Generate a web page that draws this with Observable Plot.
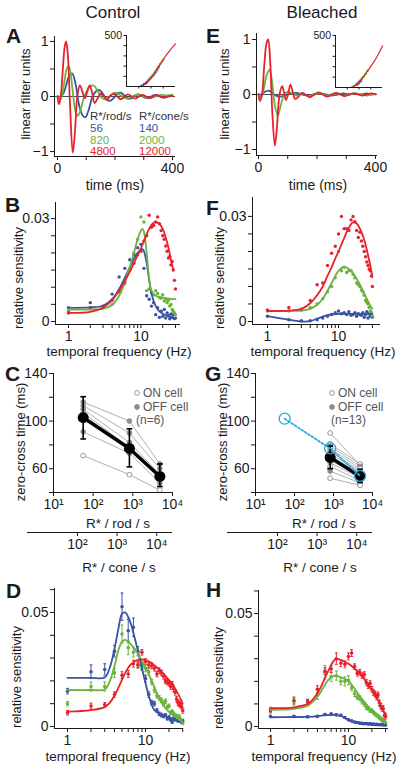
<!DOCTYPE html>
<html><head><meta charset="utf-8">
<script src="https://cdn.jsdelivr.net/npm/d3@7"></script>
<script src="https://cdn.jsdelivr.net/npm/@observablehq/plot@0.6"></script>
<style>
html,body{margin:0;padding:0;background:#fff;}
#fig{position:relative;width:400px;height:769px;overflow:hidden;background:#fff;font-family:"Liberation Sans",Arial,Helvetica,sans-serif;}
#fig svg{position:absolute;}
</style></head><body><div id="fig"></div>
<script>
// ---------------- DATA ----------------
// Panel A (Control) linear filters: time (ms) and amplitude
const tRedA = [0,5,10,18,25,30,36,44,53,60,70,78,87,95,103,112,120,129,138,150,162,172,185,196,208,220,233,245,258,270,283,295,308,320,333,345,358,370,383,395,400];
const vRedA = [0,-0.14,-0.05,0.45,0.9,1.0,0.75,-0.2,-1.02,-0.7,0.05,0.2,0.08,-0.03,0.08,0.2,0.08,-0.12,-0.05,0.05,0,-0.06,0.02,0.05,0,-0.05,0,0.04,0,-0.04,0,0.03,0,-0.03,0,0.03,0,-0.02,0,0.02,0.01];
const tGrnA = [0,8,15,25,32,39,46,55,63,71,80,90,100,113,126,140,155,165,180,195,205,220,240,260,280,300,320,340,360,380,400];
const vGrnA = [0,-0.06,0.02,0.3,0.5,0.55,0.4,0,-0.28,-0.35,-0.25,-0.05,0.08,0.18,0.2,0.1,-0.03,-0.05,0,0.06,0.07,0.02,-0.04,0,0.04,0,-0.03,0,0.03,0.02,0.03];
const tBluA = [0,10,20,30,40,51,62,75,88,97,108,122,135,145,158,170,182,195,208,220,232,245,258,270,283,296,310,325,340,355,370,385,400];
const vBluA = [0,0,0.05,0.2,0.37,0.42,0.25,-0.15,-0.35,-0.38,-0.25,0,0.1,0.12,0.05,-0.05,-0.08,-0.03,0.05,0.07,0.02,-0.04,-0.03,0.02,0.04,0,-0.03,0,0.03,0,-0.02,0,0.01];
// Panel E (Bleached) linear filters
const tRedE = [0,5,12,20,27,33,40,47,56,63,72,81,88,94,101,109,117,125,135,148,160,175,190,205,220,235,250,265,280,295,310,325,340,355,370,385,400];
const vRedE = [0,-0.12,0,0.55,0.92,1.0,0.6,-0.3,-0.93,-0.6,0,0.15,0.02,-0.1,0,0.18,0.05,-0.08,-0.05,0.03,0,-0.05,0,0.04,0,-0.04,0,0.03,0,-0.03,0,0.02,0,-0.02,0,0.02,0];
const tGrnE = [0,8,16,28,38,46,56,66,76,88,100,115,130,150,170,190,210,230,250,270,290,310,330,350,370,385,400];
const vGrnE = [0,-0.05,0.05,0.35,0.45,0.25,-0.2,-0.38,-0.2,0,0.05,0.02,-0.02,0.02,-0.03,0,0.02,-0.02,0,0.02,-0.02,0,0.02,0,-0.02,0,0.01];
const tBluE = [0,10,20,34,45,60,75,90,110,130,150,170,190,210,230,250,270,290,310,330,350,370,385,400];
const vBluE = [0,0,0.04,0.07,0.04,-0.02,-0.04,-0.02,0.02,0.03,0,-0.02,0,0.02,0,-0.02,0,0.02,0,0.02,0,0.02,0,0.01];
// Insets (static nonlinearity): generator signal (a.u.) vs rate (0-500)
const insAredX = [0,2.8,4.2,5.6,6.9,8.3,10];
const insAredY = [0,0,42,124,222,320,418];
const insAbluX = [3.0,3.3,3.6,3.9,4.1,4.4,4.7,5.0,5.3,5.6,5.9,6.2,6.5];
const insAbluY = [5,10,25,30,40,55,72,85,100,118,140,160,185];
const insAgrnX = [4.5,4.8,5.1,5.4,5.7,6.0,6.3,6.6,6.9,7.2,7.5];
const insAgrnY = [60,78,95,112,130,155,175,195,220,240,260];
const insEredX = [0,3.2,4.6,6.0,7.4,8.8,10];
const insEredY = [0,0,35,106,196,293,400];
const insEbluX = [4.5,4.7,4.9,5.0,5.2,5.4];
const insEbluY = [25,35,40,50,55,65];
const insEgrnX = [3.6,4.0,4.4,4.8,5.2,5.6,6.0,6.4,6.8];
const insEgrnY = [5,15,28,45,65,85,105,130,160];

// Panels B/F: sensitivity vs temporal frequency
const freqPts = [1,2,3,4,5,6,7,8,9,10,11,12,13,14,15,16,17,18,19,20,21,22,23,24,25,26,27,28,29,30];
const fitFreqB = [1,2,3,4,5,6,7,8,9,10,10.5,11,12,13,14,16,18,22,26,30];
const fitBluB = [0.0040,0.0041,0.0046,0.0065,0.0095,0.0128,0.0158,0.0183,0.0200,0.0210,0.0211,0.0205,0.0170,0.0120,0.0080,0.0045,0.0030,0.0018,0.0013,0.0010];
const fitGrnB = [0.0035,0.0035,0.0037,0.0048,0.0075,0.0115,0.0158,0.0200,0.0240,0.0265,0.0270,0.0262,0.0200,0.0125,0.0090,0.0075,0.0072,0.0068,0.0066,0.0065];
const fitFreqBred = [1,2,3,4,5,6,7,8,9,10,11,12,13,14,15,16,18,20,22,24,26,28];
const fitRedB = [0.0025,0.0028,0.0040,0.0062,0.0090,0.0118,0.0145,0.0170,0.0193,0.0213,0.0235,0.0255,0.0270,0.0282,0.0288,0.0290,0.0285,0.0270,0.0245,0.0215,0.0180,0.0150];
const ptBluB = [0.0040,0.0055,0.0042,0.0080,0.0130,0.0155,0.0180,0.0195,0.0215,0.0225,0.0155,0.0075,0.0065,0.0045,0.0055,0.0020,0.0040,0.0012,0.0030,0.0015,0.0035,0.0010,0.0025,0.0018,0.0008,0.0022,0.0012,0.0020,0.0009,0.0010];
const ptGrnB = [0.0030,0.0040,0.0042,0.0050,0.0085,0.0110,0.0150,0.0200,0.0240,0.0305,0.0290,0.0090,0.0095,0.0085,0.0078,0.0090,0.0082,0.0070,0.0068,0.0078,0.0060,0.0065,0.0055,0.0062,0.0045,0.0050,0.0035,0.0030,0.0025,0.0020];
const ptRedB = [0.0025,0.0040,0.0045,0.0062,0.0090,0.0115,0.0150,0.0170,0.0195,0.0205,0.0235,0.0250,0.0310,0.0275,0.0280,0.0290,0.0305,0.0285,0.0265,0.0250,0.0240,0.0220,0.0205,0.0185,0.0190,0.0165,0.0175,0.0150,0.0120,0.0095];
const fitFreqF = [1,2,3,4,5,6,7,8,9,10,11,12,13,14,15,16,18,20,22,24,26,28,30];
const fitRedF = [0.0030,0.0031,0.0036,0.0052,0.0075,0.0100,0.0130,0.0155,0.0180,0.0200,0.0220,0.0238,0.0255,0.0268,0.0278,0.0283,0.0280,0.0265,0.0245,0.0220,0.0190,0.0160,0.0127];
const fitGrnF = [0.0030,0.0030,0.0031,0.0036,0.0048,0.0065,0.0088,0.0110,0.0130,0.0145,0.0153,0.0156,0.0154,0.0150,0.0145,0.0138,0.0122,0.0105,0.0088,0.0072,0.0058,0.0046,0.0036];
const fitBluF = [0.0015,0.0005,0.0000,0.0001,0.0008,0.0014,0.0018,0.0020,0.0021,0.0022,0.0022,0.0022,0.0022,0.0022,0.0022,0.0022,0.0022,0.0022,0.0022,0.0022,0.0022,0.0022,0.0022];
const ptRedF = [0.0033,0.0040,0.0035,0.0060,0.0105,0.0110,0.0160,0.0195,0.0215,0.0250,0.0300,0.0265,0.0265,0.0260,0.0290,0.0300,0.0285,0.0260,0.0240,0.0255,0.0230,0.0215,0.0200,0.0185,0.0170,0.0160,0.0150,0.0145,0.0130,0.0100];
const ptGrnF = [0.0030,0.0030,0.0032,0.0040,0.0050,0.0065,0.0085,0.0100,0.0125,0.0200,0.0145,0.0155,0.0140,0.0145,0.0145,0.0135,0.0125,0.0110,0.0105,0.0100,0.0090,0.0085,0.0075,0.0060,0.0055,0.0050,0.0040,0.0030,0.0025,0.0015];
const ptBluF = [0.0015,0.0005,0.0002,0.0002,0.0005,0.0010,0.0015,0.0020,0.0025,0.0030,0.0022,0.0025,0.0020,0.0028,0.0018,0.0020,0.0025,0.0015,0.0022,0.0020,0.0018,0.0025,0.0012,0.0020,0.0028,0.0010,0.0022,0.0015,0.0025,0.0012];

// Panels D/H: population means with s.e.m.
const fitFreqD = [1,2,3,3.5,4,4.5,5,5.5,6,6.5,7,8,9,10,11,12,13,15,18,22,26,30];
const fitBluD = [0.0213,0.0213,0.0215,0.0260,0.0340,0.0430,0.0495,0.0500,0.0480,0.0450,0.0410,0.0330,0.0255,0.0190,0.0135,0.0095,0.0072,0.0058,0.0045,0.0035,0.0027,0.0022];
const fitGrnD = [0.0160,0.0160,0.0162,0.0200,0.0265,0.0335,0.0372,0.0380,0.0372,0.0360,0.0348,0.0318,0.0288,0.0260,0.0230,0.0200,0.0172,0.0123,0.0080,0.0052,0.0035,0.0018];
const fitRedD = [0.0065,0.0072,0.0085,0.0105,0.0135,0.0170,0.0205,0.0235,0.0258,0.0272,0.0282,0.0292,0.0294,0.0292,0.0285,0.0278,0.0268,0.0250,0.0222,0.0185,0.0145,0.0100];
const ptBluD = [0.0155,0.0240,0.0250,0.0330,0.0525,0.0420,0.0435,0.0330,0.0265,0.0210,0.0140,0.0105,0.0100,0.0070,0.0055,0.0050,0.0045,0.0050,0.0035,0.0040,0.0030,0.0020,0.0035,0.0030,0.0035,0.0025,0.0030,0.0025,0.0020,0.0025];
const ptGrnD = [0.0100,0.0175,0.0175,0.0235,0.0405,0.0345,0.0325,0.0270,0.0260,0.0255,0.0240,0.0195,0.0160,0.0135,0.0125,0.0115,0.0100,0.0110,0.0085,0.0090,0.0060,0.0065,0.0055,0.0050,0.0045,0.0040,0.0045,0.0030,0.0025,0.0015];
const ptRedD = [0.0060,0.0090,0.0095,0.0140,0.0225,0.0230,0.0275,0.0270,0.0325,0.0285,0.0270,0.0265,0.0255,0.0230,0.0245,0.0235,0.0220,0.0200,0.0195,0.0190,0.0175,0.0185,0.0165,0.0150,0.0120,0.0105,0.0100,0.0095,0.0090,0.0070];
const errBluD = [0.0012,0.003,0.0025,0.0025,0.006,0.005,0.004,0.002,0.0015,0.0015,0.0012,0.001,0.001,0.0008,0.0008,0.0008,0.0007,0.0007,0.0007,0.0007,0.0006,0.0006,0.0006,0.0006,0.0006,0.0006,0.0006,0.0006,0.0006,0.0006];
const errGrnD = [0.001,0.002,0.002,0.002,0.004,0.003,0.002,0.0015,0.0015,0.0015,0.0015,0.0012,0.0012,0.001,0.001,0.001,0.001,0.001,0.0008,0.0008,0.0008,0.0008,0.0008,0.0007,0.0007,0.0007,0.0007,0.0007,0.0007,0.0007];
const errRedD = [0.001,0.0012,0.001,0.0012,0.0015,0.0015,0.0015,0.0012,0.0012,0.0012,0.0012,0.0012,0.0012,0.0012,0.0012,0.0012,0.0012,0.0012,0.0012,0.0012,0.0012,0.0012,0.0012,0.0012,0.0012,0.0012,0.0012,0.0012,0.0012,0.0012];
const fitBluH = [0.0041,0.0042,0.0043,0.0044,0.0046,0.0048,0.0050,0.0051,0.0052,0.0052,0.0051,0.0047,0.0038,0.0029,0.0022,0.0018,0.0015,0.0012,0.0010,0.0008,0.0007,0.0007];
const fitGrnH = [0.0074,0.0078,0.0091,0.0110,0.0132,0.0158,0.0185,0.0205,0.0218,0.0224,0.0224,0.0218,0.0210,0.0202,0.0185,0.0168,0.0150,0.0120,0.0088,0.0055,0.0030,0.0015];
const fitRedH = [0.0081,0.0085,0.0100,0.0120,0.0147,0.0180,0.0215,0.0245,0.0272,0.0292,0.0299,0.0295,0.0286,0.0278,0.0268,0.0256,0.0245,0.0222,0.0185,0.0140,0.0095,0.0050];
const ptBluH = [0.0045,0.0045,0.0043,0.0045,0.0053,0.0055,0.0052,0.0050,0.0040,0.0030,0.0025,0.0020,0.0018,0.0015,0.0014,0.0012,0.0013,0.0011,0.0012,0.0010,0.0011,0.0009,0.0010,0.0008,0.0009,0.0008,0.0009,0.0007,0.0008,0.0007];
const ptGrnH = [0.0075,0.0110,0.0110,0.0140,0.0240,0.0220,0.0225,0.0200,0.0200,0.0205,0.0170,0.0145,0.0130,0.0125,0.0110,0.0100,0.0085,0.0080,0.0070,0.0070,0.0062,0.0055,0.0050,0.0045,0.0040,0.0035,0.0030,0.0025,0.0020,0.0015];
const ptRedH = [0.0070,0.0115,0.0110,0.0165,0.0245,0.0255,0.0300,0.0280,0.0275,0.0310,0.0325,0.0265,0.0235,0.0240,0.0225,0.0230,0.0195,0.0180,0.0190,0.0165,0.0150,0.0145,0.0130,0.0140,0.0105,0.0090,0.0080,0.0080,0.0050,0.0045];
const errBluH = [0.0004,0.0004,0.0004,0.0004,0.0005,0.0005,0.0005,0.0004,0.0004,0.0004,0.0003,0.0003,0.0003,0.0003,0.0003,0.0003,0.0003,0.0003,0.0003,0.0003,0.0003,0.0003,0.0003,0.0003,0.0003,0.0003,0.0003,0.0003,0.0003,0.0003];
const errGrnH = [0.001,0.0015,0.001,0.002,0.003,0.002,0.002,0.0015,0.002,0.002,0.0012,0.0012,0.001,0.001,0.001,0.001,0.001,0.0008,0.0008,0.0008,0.0008,0.0008,0.0007,0.0007,0.0007,0.0007,0.0007,0.0007,0.0007,0.0007];
const errRedH = [0.001,0.0015,0.001,0.0015,0.0015,0.0015,0.0025,0.0015,0.0015,0.0015,0.0015,0.0012,0.0012,0.0012,0.0012,0.0012,0.0012,0.0012,0.0012,0.0012,0.0012,0.0012,0.0012,0.0012,0.0012,0.0012,0.0012,0.0012,0.0012,0.0012];

// Panels C/G: zero-cross time (ms) vs background (R*/rod/s)
const rodLevels = [56, 820, 4800];
const rodToCone = 2.5;
const coneAxisStart = 5.5;   // R*/cone/s at the left end of the secondary axis
const cTypes = ["OFF","OFF","OFF","ON","OFF","ON"];
const cCells = [[116,100,64],[113,90,60],[110,82,55],[107,78,52],[91,73,48],[71,55,42]];
const cMean = [103, 77, 53.5];
const cLo = [85, 61.5, 45];
const cHi = [120.5, 93.5, 64];
const rodLevelsG = [820, 4800];
const gTypes = ["ON","ON","OFF","ON","OFF","OFF","ON","OFF","ON","OFF","ON","OFF","ON"];
const gCells = [[90,63],[81,64],[79,62],[77,60],[75,58],[73,57],[71,56],[69,55],[67,54],[65,52],[62,50],[58,48],[52,46]];
const gMean = [69.5, 53.5];
const gLo = [60, 48.5];
const gHi = [79, 59.5];
const cyanVal = [102, 77, 54];

// Tick labels
const logFreqTicks = [1,2,3,4,5,6,7,8,9,10,20,30];
const logFreqLabels = [1,3,10,30];
const rodTicks = [10,100,1000,10000];
const coneTicks = [100,1000,10000];
const legendRod = ["56","820","4800"];
const legendCone = ["140","2000","12000"];

// ---------------- DRAW ----------------
const FONT = '"Liberation Sans", Arial, Helvetica, sans-serif';
const BLUE = "#3a53a4", GREEN = "#6ab33f", RED = "#e8212b", CYAN = "#27aae1", GRAY = "#8c8c8c", INK = "#1a1a1a";
const fig = document.getElementById("fig");
const pairs = (xs, ys) => xs.map((x, i) => ({x, y: ys[i]}));
const errs = (xs, ys, es) => xs.map((x, i) => ({x, y: ys[i], lo: ys[i] - es[i], hi: ys[i] + es[i]}));
const capSymbol = {draw(ctx, size) { const w = Math.sqrt(size) / 2; ctx.moveTo(-w, 0); ctx.lineTo(w, 0); }};
const sup = {1: "\u00b9", 2: "\u00b2", 3: "\u00b3", 4: "\u2074"};
const pow10 = d => "10" + sup[Math.round(Math.log10(d))];

function panel({left, top, width, height, ml, mr, mt, mb, x, y, marks}) {
  const svg = Plot.plot({
    width, height, marginLeft: ml, marginRight: mr, marginTop: mt, marginBottom: mb,
    x: {...x, axis: null}, y: {...y, axis: null},
    style: {fontFamily: FONT, fontSize: "14px", background: "none", overflow: "visible", color: INK},
    marks
  });
  svg.style.left = left + "px"; svg.style.top = top + "px";
  fig.appendChild(svg);
}
function axes(xDom, yDom, xTicks, xFmt, yTicks, yFmt, fs = 14, ts = 4) {
  return [
    Plot.ruleX([xDom[0]], {stroke: INK, strokeWidth: 1}),
    Plot.ruleY([yDom[0]], {stroke: INK, strokeWidth: 1}),
    Plot.axisX(xTicks, {anchor: "bottom", tickSize: ts, tickPadding: 3, tickFormat: xFmt, label: null, fontSize: fs}),
    Plot.axisY(yTicks, {anchor: "left", tickSize: ts, tickPadding: 2, tickFormat: yFmt, label: null, fontSize: fs})
  ];
}
const fmtTime = d => (d === 0 || d === 400) ? String(d) : "";
const fmtFilt = d => d === 1 ? "1" : d === 0 ? "0" : d === -1 ? "\u22121" : "";
const fmtFreq = d => logFreqLabels.includes(d) ? String(d) : "";

// A & E
function filterPanel(left, ml, mr, mt, mb, xDom, yDom, series, ins) {
  panel({left, top: 0, width: 200, height: 200, ml, mr, mt, mb,
    x: {domain: xDom}, y: {domain: yDom},
    marks: [
      Plot.ruleY([0], {stroke: INK, strokeWidth: 0.8}),
      ...series.map(([t, v, c]) => Plot.line(pairs(t, v), {x: "x", y: "y", stroke: c, strokeWidth: 1.8, curve: "catmull-rom"})),
      ...axes(xDom, yDom, [0,100,200,300,400], fmtTime, [-1,-0.5,0,0.5,1], fmtFilt)
    ]});
  const [il, iml, imr, rx, ry, bx, by, gx, gy, ih] = ins;
  panel({left: il, top: 20, width: 90, height: 80, ml: iml, mr: imr, mt: 15, mb: 80 - 15 - ih,
    x: {domain: [0, 10]}, y: {domain: [0, 500]},
    marks: [
      Plot.dot(pairs(bx, by), {x: "x", y: "y", r: 1.3, fill: BLUE}),
      Plot.dot(pairs(gx, gy), {x: "x", y: "y", r: 1.3, fill: GREEN}),
      Plot.line(pairs(rx, ry), {x: "x", y: "y", stroke: RED, strokeWidth: 1.2, curve: "monotone-x"}),
      ...axes([0, 10], [0, 500], [2.5, 5, 7.5], () => "", [100, 200, 300, 400, 500], d => d === 500 ? "500" : "", 10.5, 2.5)
    ]});
}
filterPanel(0, 54, 25, 36, 44, [-10.4, 410.4], [-1.09, 1.09],
  [[tBluA, vBluA, BLUE], [tGrnA, vGrnA, GREEN], [tRedA, vRedA, RED]],
  [100, 26, 15, insAredX, insAredY, insAbluX, insAbluY, insAgrnX, insAgrnY, 51]);
filterPanel(200, 56, 23, 33, 45, [-6.8, 406.8], [-1.109, 1.109],
  [[tBluE, vBluE, BLUE], [tGrnE, vGrnE, GREEN], [tRedE, vRedE, RED]],
  [305, 30, 13, insEredX, insEredY, insEbluX, insEbluY, insEgrnX, insEgrnY, 52]);

// B & F
function freqPanel(left, top, ml, mr, mt, mb, xDom, yDom, fits, pts, yTicks, yFmt) {
  panel({left, top, width: 200, height: 180, ml, mr, mt, mb,
    x: {type: "log", domain: xDom}, y: {domain: yDom},
    marks: [
      ...pts.map(([f, v, c]) => Plot.dot(pairs(f, v), {x: "x", y: "y", r: 1.7, fill: c})),
      ...fits.map(([f, v, c]) => Plot.line(pairs(f, v), {x: "x", y: "y", stroke: c, strokeWidth: 1.8, curve: "catmull-rom"})),
      ...axes(xDom, yDom, logFreqTicks, fmtFreq, yTicks, yFmt)
    ]});
}
const yTicksB = [0, 0.005, 0.01, 0.015, 0.02, 0.025, 0.03];
const fmtB = d => d === 0 ? "0" : d === 0.03 ? "0.03" : "";
freqPanel(0, 180, 55, 20, 22, 36, [0.661, 35.2], [-0.00087, 0.0347],
  [[fitFreqB, fitBluB, BLUE], [fitFreqB, fitGrnB, GREEN], [fitFreqBred, fitRedB, RED]],
  [[freqPts, ptBluB, BLUE], [freqPts, ptGrnB, GREEN], [freqPts, ptRedB, RED]], yTicksB, fmtB);
freqPanel(200, 180, 52, 20, 17, 36, [0.615, 39], [-0.00086, 0.0354],
  [[fitFreqF, fitBluF, BLUE], [fitFreqF, fitGrnF, GREEN], [fitFreqF, fitRedF, RED]],
  [[freqPts, ptBluF, BLUE], [freqPts, ptGrnF, GREEN], [freqPts, ptRedF, RED]], yTicksB, fmtB);

// D & H
function semPanel(left, ml, mr, mt, xDom, yDom, fits, pts) {
  panel({left, top: 565, width: 200, height: 204, ml, mr, mt, mb: 41,
    x: {type: "log", domain: xDom}, y: {domain: yDom},
    marks: [
      ...pts.map(([f, v, e, c]) => Plot.ruleX(errs(f, v, e), {x: "x", y1: "lo", y2: "hi", stroke: c, strokeWidth: 1})),
      ...pts.map(([f, v, e, c]) => Plot.dot(errs(f, v, e), {x: "x", y: "hi", symbol: capSymbol, r: 1.6, stroke: c, strokeWidth: 1})),
      ...pts.map(([f, v, e, c]) => Plot.dot(errs(f, v, e), {x: "x", y: "lo", symbol: capSymbol, r: 1.6, stroke: c, strokeWidth: 1})),
      ...pts.map(([f, v, e, c]) => Plot.dot(pairs(f, v), {x: "x", y: "y", r: 1.8, fill: c})),
      ...fits.map(([f, v, c]) => Plot.line(pairs(f, v), {x: "x", y: "y", stroke: c, strokeWidth: 1.8, curve: "catmull-rom"})),
      ...axes(xDom, yDom, logFreqTicks, fmtFreq, [0, 0.01, 0.02, 0.03, 0.04, 0.05, 0.06], d => d === 0 ? "0" : d === 0.05 ? "0.05" : "")
    ]});
}
semPanel(0, 54, 17, 23, [0.681, 30.7], [-0.00088, 0.0605],
  [[fitFreqD, fitBluD, BLUE], [fitFreqD, fitGrnD, GREEN], [fitFreqD, fitRedD, RED]],
  [[freqPts, ptBluD, errBluD, BLUE], [freqPts, ptGrnD, errGrnD, GREEN], [freqPts, ptRedD, errRedD, RED]]);
semPanel(200, 58, 12, 25, [0.701, 32.7], [-0.00088, 0.0602],
  [[fitFreqD, fitBluH, BLUE], [fitFreqD, fitGrnH, GREEN], [fitFreqD, fitRedH, RED]],
  [[freqPts, ptBluH, errBluH, BLUE], [freqPts, ptGrnH, errGrnH, GREEN], [freqPts, ptRedH, errRedH, RED]]);

// C & G
function zcPanel(left, ml, levels, cells, types, mean, lo, hi, cyan) {
  const cellRows = cells.flatMap((vals, ci) => vals.map((v, k) => ({cell: ci, type: types[ci], x: levels[k], y: v})));
  const meanRows = mean.map((m, k) => ({x: levels[k], y: m, lo: lo[k], hi: hi[k]}));
  const xDom = [10, 10000], yDom = [40, 140];
  const marks = [
    Plot.line(cellRows, {x: "x", y: "y", z: "cell", stroke: "#9a9a9a", strokeWidth: 0.8}),
    Plot.dot(cellRows, {x: "x", y: "y", r: 2.4, stroke: GRAY, strokeWidth: 0.9, fill: d => d.type === "ON" ? "white" : GRAY}),
    Plot.line(meanRows, {x: "x", y: "y", stroke: "black", strokeWidth: 3.5}),
    Plot.ruleX(meanRows, {x: "x", y1: "lo", y2: "hi", stroke: "black", strokeWidth: 1.6}),
    Plot.dot(meanRows, {x: "x", y: "lo", symbol: capSymbol, r: 3.2, stroke: "black", strokeWidth: 1.6}),
    Plot.dot(meanRows, {x: "x", y: "hi", symbol: capSymbol, r: 3.2, stroke: "black", strokeWidth: 1.6}),
    Plot.dot(meanRows, {x: "x", y: "y", r: 5.5, fill: "black"})
  ];
  if (cyan) {
    const cy = cyan.map((v, k) => ({x: rodLevels[k], y: v}));
    marks.push(Plot.line(cy, {x: "x", y: "y", stroke: CYAN, strokeWidth: 1.8, strokeDasharray: "2,2"}));
    marks.push(Plot.dot(cy, {x: "x", y: "y", r: 5.5, stroke: CYAN, strokeWidth: 1.3, fill: "none"}));
  }
  marks.push(...axes(xDom, yDom, rodTicks, pow10, [40, 60, 80, 100, 120, 140], d => [60, 100, 140].includes(d) ? String(d) : ""));
  panel({left, top: 355, width: 200, height: 200, ml, mr: 28, mt: 18, mb: 63,
    x: {type: "log", domain: xDom}, y: {domain: yDom}, marks});
  // secondary cone axis (cone = rod * rodToCone), same pixel span as the rod axis' right end
  const coneDom = [coneAxisStart, xDom[1] * rodToCone];
  panel({left, top: 521, width: 200, height: 41, ml: 27, mr: 28, mt: 10, mb: 30,
    x: {type: "log", domain: coneDom}, y: {domain: [0, 1]},
    marks: [
      Plot.ruleY([0], {x1: coneDom[0], x2: coneDom[1], stroke: INK, strokeWidth: 1}),
      Plot.axisX(coneTicks, {anchor: "bottom", tickSize: 4, tickPadding: 3, tickFormat: pow10, label: null, fontSize: 14})
    ]});
}
zcPanel(0, 53, rodLevels, cCells, cTypes, cMean, cLo, cHi, null);
zcPanel(200, 55, rodLevelsG, gCells, gTypes, gMean, gLo, gHi, cyanVal);

// ---------------- TEXT OVERLAY ----------------
const ov = d3.select(fig).append("svg").attr("width", 400).attr("height", 769)
  .style("left", "0px").style("top", "0px").style("pointer-events", "none")
  .style("font-family", FONT);
function txt(x, y, s, o = {}) {
  const t = ov.append("text").attr("x", x).attr("y", y).text(s)
    .attr("font-size", o.size || 13.5).attr("fill", o.fill || INK)
    .attr("text-anchor", o.anchor || "middle").attr("font-weight", o.weight || "normal");
  if (o.rotate) t.attr("transform", `rotate(-90 ${x} ${y})`);
  return t;
}
txt(113, 18, "Control", {size: 17});
txt(322, 18, "Bleached", {size: 17});
[["A", 6, 43], ["E", 206, 43], ["B", 5, 212], ["F", 206, 215], ["C", 5, 381], ["G", 205, 381], ["D", 6, 598], ["H", 206, 597]]
  .forEach(([s, x, y]) => txt(x, y, s, {size: 21, weight: "bold", anchor: "start"}));
// axis titles
const rot = {rotate: true, size: 13};
txt(30, 94, "linear filter units", rot);
txt(229, 94, "linear filter units", rot);
txt(23, 278, "relative sensitivity", rot);
txt(224, 278, "relative sensitivity", rot);
txt(25, 442, "zero-cross time (ms)", rot);
txt(227, 442, "zero-cross time (ms)", rot);
txt(21, 677, "relative sensitivity", rot);
txt(223, 678, "relative sensitivity", rot);
txt(115, 190, "time (ms)", {size: 14});
txt(318, 190, "time (ms)", {size: 14});
txt(119, 356, "temporal frequency (Hz)");
txt(323, 356, "temporal frequency (Hz)");
txt(118, 528, "R* / rod / s");
txt(324, 528, "R* / rod / s");
txt(119, 572, "R* / cone / s");
txt(320, 572, "R* / cone / s");
txt(118, 761, "temporal frequency (Hz)");
txt(324, 761, "temporal frequency (Hz)");
// legend panel A
const legCols = [BLUE, GREEN, RED];
txt(90, 120, "R*/rod/s", {size: 11.5, anchor: "start", fill: "#333"});
txt(139, 120, "R*/cone/s", {size: 11.5, anchor: "start", fill: "#333"});
legendRod.forEach((s, i) => txt(90, 132 + i * 11.5, s, {size: 11.5, anchor: "start", fill: legCols[i]}));
legendCone.forEach((s, i) => txt(139, 132 + i * 11.5, s, {size: 11.5, anchor: "start", fill: legCols[i]}));
// legends C / G
function cellLegend(x, n) {
  ov.append("circle").attr("cx", x).attr("cy", 393).attr("r", 2.4).attr("fill", "white").attr("stroke", GRAY).attr("stroke-width", 0.9);
  ov.append("circle").attr("cx", x).attr("cy", 407).attr("r", 2.4).attr("fill", GRAY).attr("stroke", GRAY);
  txt(x + 6, 397, "ON cell", {size: 12, anchor: "start", fill: "#555"});
  txt(x + 6, 411, "OFF cell", {size: 12, anchor: "start", fill: "#555"});
  txt(x - 1, 424, `(n=${n})`, {size: 12, anchor: "start", fill: "#555"});
}
cellLegend(137, cCells.length);
cellLegend(332, gCells.length);
</script></body></html>
